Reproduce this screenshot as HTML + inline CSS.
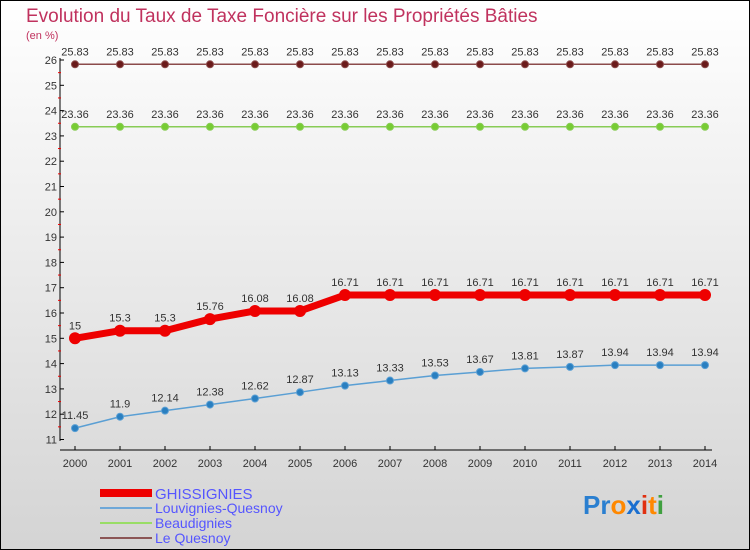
<!DOCTYPE html>
<html><head><meta charset="utf-8"><style>
html,body{margin:0;padding:0}
body{width:750px;height:550px;overflow:hidden}
svg{display:block;font-family:"Liberation Sans",sans-serif}
</style></head><body>
<svg width="750" height="550" viewBox="0 0 750 550">
<defs><linearGradient id="bg" x1="0" y1="0" x2="0" y2="1"><stop offset="0" stop-color="#ffffff"/><stop offset="1" stop-color="#d4d4d4"/></linearGradient></defs>
<rect x="0.5" y="0.5" width="749" height="549" fill="url(#bg)" stroke="#000"/>
<text x="26" y="22" font-size="19" fill="#c0325e">Evolution du Taux de Taxe Foncière sur les Propriétés Bâties</text>
<text x="26" y="39" font-size="11" fill="#c0325e">(en %)</text>
<g id="axes"></g>
<g id="plot"></g>
<g>
<rect x="100" y="489" width="52" height="8" fill="#ee0000"/>
<text x="155" y="499" font-size="15" fill="#5555ff">GHISSIGNIES</text>
<rect x="100" y="507" width="52" height="2" fill="#6fa8d8"/>
<text x="155" y="513" font-size="14" fill="#5555ff">Louvignies-Quesnoy</text>
<rect x="100" y="522" width="52" height="2" fill="#99dd66"/>
<text x="155" y="528" font-size="14" fill="#5555ff">Beaudignies</text>
<rect x="100" y="537" width="52" height="2" fill="#8b5555"/>
<text x="155" y="543" font-size="14" fill="#5555ff">Le Quesnoy</text>
</g>
<g font-size="26" font-weight="bold">
<text x="583" y="514"><tspan fill="#2a7fd0">Pr</tspan><tspan fill="#ff8800">o</tspan><tspan fill="#1a6fd0">x</tspan><tspan fill="#e03010">i</tspan><tspan fill="#ff8800">t</tspan><tspan fill="#40a040">i</tspan></text>
</g>
</svg>
<script>
const years=[2000,2001,2002,2003,2004,2005,2006,2007,2008,2009,2010,2011,2012,2013,2014];
const ghissignies=[15,15.3,15.3,15.76,16.08,16.08,16.71,16.71,16.71,16.71,16.71,16.71,16.71,16.71,16.71];
const louvignies=[11.45,11.9,12.14,12.38,12.62,12.87,13.13,13.33,13.53,13.67,13.81,13.87,13.94,13.94,13.94];
const beaudignies=[23.36,23.36,23.36,23.36,23.36,23.36,23.36,23.36,23.36,23.36,23.36,23.36,23.36,23.36,23.36];
const lequesnoy=[25.83,25.83,25.83,25.83,25.83,25.83,25.83,25.83,25.83,25.83,25.83,25.83,25.83,25.83,25.83];
const yTicks=[11,12,13,14,15,16,17,18,19,20,21,22,23,24,25,26];
const NS='http://www.w3.org/2000/svg';
const x=i=>75+i*45;
const y=v=>439.5-(v-11)*25.3;
function mk(tag,attrs,parent){const e=document.createElementNS(NS,tag);for(const k in attrs)e.setAttribute(k,attrs[k]);parent.appendChild(e);return e;}
const axes=document.getElementById('axes'),plot=document.getElementById('plot');
let a=mk('line',{x1:60,y1:58,x2:60,y2:441,stroke:'#000','stroke-width':1},axes);


a=mk('line',{x1:60,y1:450,x2:712,y2:450,stroke:'#000','stroke-width':1},axes);


yTicks.forEach(v=>{
 mk('line',{x1:60,y1:y(v),x2:64,y2:y(v),stroke:'#000'},axes);
 if(v<26) mk('line',{x1:58,y1:y(v+0.5),x2:61,y2:y(v+0.5),stroke:'#e00'},axes);
 const t=mk('text',{x:57,y:y(v)+4,'font-size':11,fill:'#333','text-anchor':'end'},axes);
 t.textContent=v;
 
 
});
years.forEach((yr,i)=>{
 mk('line',{x1:x(i),y1:446,x2:x(i),y2:450,stroke:'#000'},axes);
 const t=mk('text',{x:x(i),y:467,'font-size':11,fill:'#333','text-anchor':'middle'},axes);
 t.textContent=yr;
 
 
});
function series(vals,color,w,r,name,dot){
 const g=mk('g',{},plot);
 
 
 const p=mk('polyline',{points:vals.map((v,i)=>x(i)+','+y(v)).join(' '),fill:'none',stroke:color,'stroke-width':w,'stroke-linejoin':'round'},g);
 vals.forEach((v,i)=>{
  const c=mk('circle',{cx:x(i),cy:y(v),r:r,fill:dot,stroke:color,'stroke-width':1},g);
  
  
  const t=mk('text',{x:x(i),y:y(v)-9,'font-size':11,fill:'#333','text-anchor':'middle'},g);
  t.textContent=v;
  
  
 });
}
series(lequesnoy,'#8b4a4a',1.5,3.5,'series-le-quesnoy','#6a1a1a');
series(beaudignies,'#88cc55',1.5,3.5,'series-beaudignies','#77cc33');
series(louvignies,'#5a9fd4',1.5,3.5,'series-louvignies','#2a7fc0');
series(ghissignies,'#ee0000',7,5.5,'series-ghissignies','#ee0000');
</script>
</body></html>
